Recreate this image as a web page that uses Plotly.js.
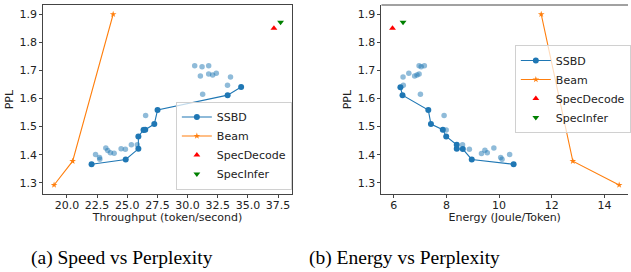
<!DOCTYPE html>
<html>
<head>
<meta charset="utf-8">
<script src="https://cdn.plot.ly/plotly-3.0.1.min.js"></script>
<style>html,body{margin:0;padding:0;background:#fff;}#chart{width:631px;height:272px;}</style>
</head>
<body>
<div id="chart"></div>
<script>
// ---- Panel (a): Speed vs Perplexity ----
const ssbdLineThroughput = [22.04, 24.87, 25.92, 25.92, 26.35, 26.49, 27.24, 27.51, 33.32, 34.44];
const ssbdLinePplA       = [1.366, 1.383, 1.421, 1.465, 1.488, 1.489, 1.509, 1.559, 1.612, 1.641];
const ssbdAllThroughput  = [30.59, 31.2, 31.75, 31.06, 31.75, 32.08, 32.38, 33.56, 33.31, 31.25,
                            22.37, 22.7, 22.72, 23.22, 23.38, 23.6, 23.91, 24.49, 24.84, 25.34, 25.83, 26.52, 26.35];
const ssbdAllPplA        = [1.717, 1.713, 1.717, 1.68, 1.687, 1.684, 1.69, 1.677, 1.647, 1.615,
                            1.401, 1.39, 1.384, 1.424, 1.415, 1.407, 1.405, 1.421, 1.419, 1.435, 1.435, 1.54, 1.49];
const beamThroughput = [18.93, 20.47, 23.83];
const beamPpl        = [1.292, 1.377, 1.9];
const specDecodeThroughput = [37.16];
const specDecodePpl        = [1.85];
const specInferThroughput  = [37.71];
const specInferPpl         = [1.872];

// ---- Panel (b): Energy vs Perplexity ----
const ssbdLineEnergy = [10.55, 8.96, 8.62, 8.39, 8.39, 7.99, 7.86, 7.41, 7.31, 6.33, 6.25];
const ssbdLinePplB   = [1.366, 1.383, 1.42, 1.421, 1.435, 1.465, 1.489, 1.509, 1.559, 1.612, 1.64];
const ssbdAllEnergy  = [6.96, 7.04, 7.16, 6.57, 6.79, 6.88, 6.96, 6.35, 6.36, 7.01,
                        7.91, 7.99, 8.61, 8.87, 9.33, 9.46, 9.55, 9.8, 10.06, 10.11, 10.4];
const ssbdAllPplB    = [1.717, 1.713, 1.717, 1.69, 1.68, 1.684, 1.687, 1.677, 1.647, 1.615,
                        1.54, 1.488, 1.435, 1.419, 1.404, 1.416, 1.407, 1.424, 1.39, 1.384, 1.401];
const beamEnergy       = [14.56, 12.8, 11.6];
const specDecodeEnergy = [5.95];
const specInferEnergy  = [6.35];

const seriesNames = ['SSBD', 'Beam', 'SpecDecode', 'SpecInfer'];
const xTitles = ['Throughput (token/second)', 'Energy (Joule/Token)'];
const yTitle = 'PPL';
const captions = ['(a) Speed vs Perplexity', '(b) Energy vs Perplexity'];

const BLUE = '#1f77b4', ORANGE = '#ff7f0e';
const FONT = 'DejaVu Sans, sans-serif';

function panelTraces(xa, ya, leg, allX, allY, lineX, lineY, bx, by, sdx, sdy, six, siy) {
  return [
    {x: allX, y: allY, xaxis: xa, yaxis: ya, type: 'scatter', mode: 'markers', showlegend: false,
     marker: {color: 'rgba(31,119,180,0.5)', size: 5.5}, hoverinfo: 'x+y'},
    {x: lineX, y: lineY, xaxis: xa, yaxis: ya, type: 'scatter', mode: 'lines+markers', name: seriesNames[0], legend: leg,
     line: {color: BLUE, width: 1.1}, marker: {color: BLUE, size: 6}},
    {x: bx, y: by, xaxis: xa, yaxis: ya, type: 'scatter', mode: 'lines+markers', name: seriesNames[1], legend: leg,
     line: {color: ORANGE, width: 1.1}, marker: {color: ORANGE, size: 5, symbol: 'star'}},
    {x: sdx, y: sdy, xaxis: xa, yaxis: ya, type: 'scatter', mode: 'markers', name: seriesNames[2], legend: leg,
     marker: {color: 'red', size: 6, symbol: 'triangle-up'}},
    {x: six, y: siy, xaxis: xa, yaxis: ya, type: 'scatter', mode: 'markers', name: seriesNames[3], legend: leg,
     marker: {color: 'green', size: 6, symbol: 'triangle-down'}}
  ];
}

const data = [].concat(
  panelTraces('x', 'y', 'legend', ssbdAllThroughput, ssbdAllPplA, ssbdLineThroughput, ssbdLinePplA,
              beamThroughput, beamPpl, specDecodeThroughput, specDecodePpl, specInferThroughput, specInferPpl),
  panelTraces('x2', 'y2', 'legend2', ssbdAllEnergy, ssbdAllPplB, ssbdLineEnergy, ssbdLinePplB,
              beamEnergy, beamPpl, specDecodeEnergy, specDecodePpl, specInferEnergy, specInferPpl)
);

const W = 631, H = 272;
const axCommon = {
  showgrid: false, zeroline: false, showline: true, linecolor: '#444', linewidth: 1,
  ticks: 'outside', ticklen: 3, tickcolor: '#444', tickwidth: 1,
  tickfont: {family: FONT, size: 11, color: '#222'}
};
const yDom = [(H - 194.3) / H, (H - 5) / H];
const titleFont = {family: FONT, size: 11, color: '#222'};
const legendCommon = {
  xanchor: 'left', yanchor: 'bottom',
  bgcolor: 'rgba(255,255,255,0.72)', bordercolor: '#d0d0d0', borderwidth: 1,
  font: {family: FONT, size: 11, color: '#222'}
};
const layout = {
  width: W, height: H,
  margin: {l: 0, r: 0, t: 0, b: 0},
  paper_bgcolor: '#fff', plot_bgcolor: '#fff',
  font: {family: FONT, size: 11, color: '#222'},
  xaxis: Object.assign({}, axCommon, {domain: [43.3 / W, 293.3 / W], range: [18.02, 38.65], dtick: 2.5, tick0: 20,
    tickformat: '.1f', mirror: true, anchor: 'y', ticklabelstandoff: -3,
    title: {text: xTitles[0], font: titleFont, standoff: 2}}),
  yaxis: Object.assign({}, axCommon, {domain: yDom, range: [1.259, 1.933], dtick: 0.1, tick0: 1.3,
    tickformat: '.1f', mirror: true, anchor: 'x',
    title: {text: yTitle, font: titleFont, standoff: 3}}),
  xaxis2: Object.assign({}, axCommon, {domain: [383.3 / W, 1], range: [5.531, 14.896], dtick: 2, tick0: 6,
    mirror: false, anchor: 'y2', ticklabelstandoff: -3,
    title: {text: xTitles[1], font: titleFont, standoff: 2}}),
  yaxis2: Object.assign({}, axCommon, {domain: yDom, range: [1.259, 1.933], dtick: 0.1, tick0: 1.3,
    tickformat: '.1f', mirror: false, anchor: 'x2',
    title: {text: yTitle, font: titleFont, standoff: 3}}),
  legend: Object.assign({}, legendCommon, {x: 176.7 / W, y: (H - 189.5) / H}),
  legend2: Object.assign({}, legendCommon, {x: 517.3 / W, y: (H - 133) / H}),
  shapes: [
    {type: 'line', xref: 'paper', yref: 'paper', x0: 383.3 / W, x1: 1, y0: yDom[1], y1: yDom[1],
     line: {color: '#444', width: 1}}
  ],
  annotations: [
    {text: captions[0], xref: 'paper', yref: 'paper', x: 123 / W, y: 14 / H, xanchor: 'center', yanchor: 'middle',
     showarrow: false, font: {family: 'Liberation Serif, Times New Roman, serif', size: 19.5, color: '#000'}},
    {text: captions[1], xref: 'paper', yref: 'paper', x: 406 / W, y: 14 / H, xanchor: 'center', yanchor: 'middle',
     showarrow: false, font: {family: 'Liberation Serif, Times New Roman, serif', size: 19.5, color: '#000'}}
  ]
};

Plotly.newPlot('chart', data, layout, {displayModeBar: false, staticPlot: true});
</script>
</body>
</html>
